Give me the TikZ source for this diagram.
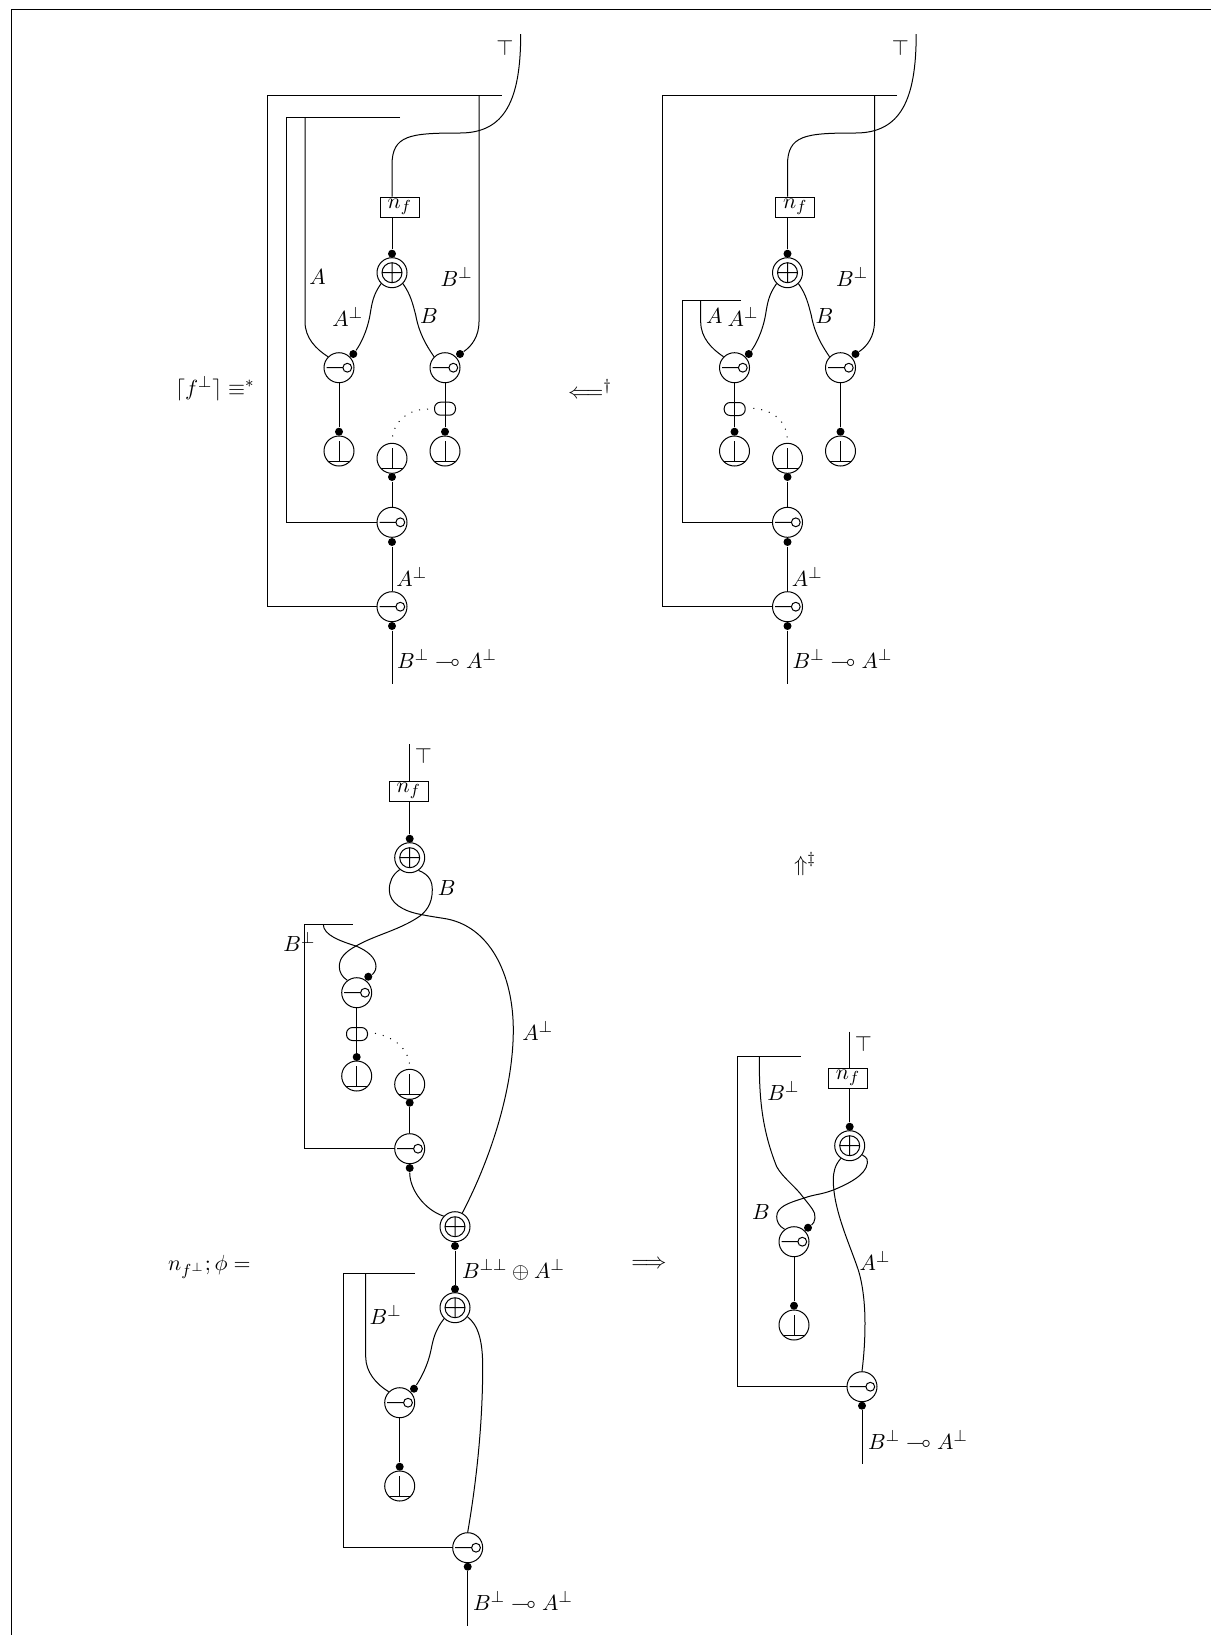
\documentclass[tikz,border=0pt]{standalone}
\usepackage{amsmath,amssymb}
\usetikzlibrary{arrows.meta,calc,positioning}
\tikzset{
  dot/.style={circle, fill, inner sep=0pt, minimum size=4pt},
  lbl/.style={inner sep=0pt},
  jump/.style={dash pattern=on 0.5pt off 3.5pt},
  namebox/.style={draw, inner sep=0pt, minimum width=19.5pt, minimum height=10pt},
  pill/.style={draw, rounded corners=3pt, inner sep=0pt, minimum width=10.5pt, minimum height=6.5pt},
  lolli/.style={circle, draw, inner sep=0pt, minimum size=15pt, path picture={
    \draw[shift={(path picture bounding box.center)}] (-12.5,0) -- (4,0) (8.3,0) circle[radius=4.4];}},
  parnode/.style={circle, draw, inner sep=0pt, minimum size=15pt, path picture={
    \draw[shift={(path picture bounding box.center)}] (0,0) circle[radius=10] (-10,0) -- (10,0) (0,-10) -- (0,10);}},
  botnode/.style={circle, draw, inner sep=0pt, minimum size=15pt, path picture={
    \draw[shift={(path picture bounding box.center)}] (0,-10) -- (0,10) (-11.5,10) -- (11.5,10);}},
}

\begin{document}
\begin{tikzpicture}[x=0.5pt, y=-0.5pt, line width=0.5pt, every node/.style={font=\fontsize{11.2}{13.4}\selectfont}]
  \useasboundingbox (0,0) rectangle (1211,1635);

  % Frame
  \coordinate (frameA) at (11,1635);
  \coordinate (frameB) at (11,9);
  \coordinate (frameC) at (1211,9);
  \draw (frameA) -- (frameB) -- (frameC);

  % Top row: what both pictures share
  \foreach \n/\dx in {p/0,q/395.5} {
    \begin{scope}[xshift=\dx*0.5pt]
      \coordinate (\n-top) at (520.7,34);
      \coordinate (\n-outA) at (501.7,95.7);
      \coordinate (\n-outB) at (267.3,95.7);
      \coordinate (\n-wB) at (479,95.7);
      \coordinate (\n-end) at (392,684);
      \node[namebox] (\n-nf) at (399.7,207) {$n_f$};
      \node[dot] (\n-dotP) at (392,253.7) {};
      \node[parnode] (\n-par) at (392,272.7) {};
      \node[lolli] (\n-lolA) at (339,367.7) {};
      \node[lolli] (\n-lolB) at (445,367.7) {};
      \node[dot] (\n-dotA) at (353.3,354) {};
      \node[dot] (\n-dotB) at (460,354) {};
      \node[dot] (\n-dotC) at (339,431.7) {};
      \node[dot] (\n-dotD) at (445,431.7) {};
      \node[botnode] (\n-botA) at (339,451) {};
      \node[botnode] (\n-botB) at (445,451) {};
      \node[botnode] (\n-botM) at (392,458.3) {};
      \node[dot] (\n-dotM) at (392,477) {};
      \node[lolli] (\n-lolD) at (392,522.3) {};
      \node[dot] (\n-dotE) at (392,542) {};
      \node[lolli] (\n-lolE) at (392,606.7) {};
      \node[dot] (\n-dotF) at (392,626) {};

      \draw (\n-top) .. controls (520.7,100) and (505,133) .. (460,133)
        .. controls (410,133) and (392,135) .. (392,165) -- (\n-nf.north -| \n-dotP);
      \draw (\n-nf.south -| \n-dotP) -- (\n-dotP);
      \draw (\n-outA) -- (\n-outB) |- (\n-lolE.west);
      \draw (\n-wB) -- (479,321.7) .. controls (479,336) and (472,346) .. (\n-dotB);
      \draw (\n-par.-135) .. controls (373,295) and (372,303) .. (370,315)
        .. controls (367,332) and (360,345) .. (\n-dotA);
      \draw (\n-par.-45) .. controls (411,295) and (413,305) .. (415.7,315)
        .. controls (419,333) and (426,345) .. (\n-lolB.135);
      \draw (\n-lolA) -- (\n-dotC);
      \draw (\n-lolB) -- (\n-dotD);
      \draw (\n-dotM) -- (\n-lolD);
      \draw (\n-dotE) -- (\n-lolE);
      \draw (\n-dotF) -- (\n-end);

      \node[lbl] (\n-lT) at (505,48) {$\top$};
      \node[lbl] (\n-lB) at (429,315.7) {$B$};
      \node[lbl] (\n-lBp) at (456.7,277) {$B^\perp$};
      \node[lbl] (\n-lAp) at (411.7,577) {$A^\perp$};
      \node[lbl, anchor=west] (\n-lImp) at (396.7,659) {$B^\perp \multimap A^\perp$};
    \end{scope}
  }

  % Top left
  \coordinate (inA) at (400,117.7);
  \coordinate (inB) at (286,117.7);
  \coordinate (wA) at (305,117.7);
  \draw (inA) -- (inB) |- (p-lolD.west);
  \draw (wA) -- (305,321.7) .. controls (305,338) and (316,349) .. (p-lolA.135);
  \node[pill] (p-pill) at (445,408.7) {};
  \draw[jump] (428,409) .. controls (410,409) and (392,420) .. (p-botM.north);
  \node[lbl] (lA) at (317.7,276.7) {$A$};
  \node[lbl] (lAq) at (347.7,317) {$A^\perp$};
  \node[lbl] (lCeil) at (215,389) {$\lceil f^\perp \rceil \equiv^*$};
  \node[lbl] (lLeft) at (590,389) {$\Longleftarrow^\dagger$};

  % Top right
  \coordinate (inC) at (741,300.7);
  \coordinate (inD) at (682,300.7);
  \coordinate (wC) at (700.7,300.7);
  \draw (inC) -- (inD) |- (q-lolD.west);
  \draw (wC) -- (700.7,321.7) .. controls (700.7,338) and (712,349) .. (q-lolA.135);
  \node[pill] (q-pill) at (734.7,409) {};
  \draw[jump] (753.3,408.3) .. controls (772,410) and (788,420) .. (q-botM.north);
  \node[lbl] (lC) at (714.3,316) {$A$};
  \node[lbl] (lCq) at (743,317) {$A^\perp$};
  \node[lbl] (lUp) at (805,864) {$\Uparrow^\ddagger$};

  % Middle
  \coordinate (mTop) at (409.7,744.3);
  \coordinate (mBrA) at (352.7,924.3);
  \coordinate (mBrB) at (304,924.3);
  \coordinate (mW) at (323.3,924.3);
  \node[namebox] (mNf) at (408.7,791) {$n_f$};
  \node[dot] (mDotP) at (409.7,838.7) {};
  \node[parnode] (mPar) at (409.7,857.7) {};
  \node[lolli] (mLolF) at (356.7,992.7) {};
  \node[dot] (mDotF) at (368.3,976.7) {};
  \node[pill] (mPill) at (357,1034) {};
  \node[dot] (mDotG) at (356.7,1057) {};
  \node[botnode] (mBotG) at (356.7,1076) {};
  \node[botnode] (mBotM) at (409.7,1084.3) {};
  \node[dot] (mDotM) at (409.7,1102.7) {};
  \node[lolli] (mLolG) at (409.7,1148.7) {};
  \node[dot] (mDotH) at (409.7,1168) {};
  \node[parnode] (mParD) at (455,1226.7) {};
  \draw (mTop) -- (mNf.north -| mDotP);
  \draw (mNf.south -| mDotP) -- (mDotP);
  \draw (mPar.-130) .. controls (392,875) and (389.3,882) .. (389.3,890)
    .. controls (389.3,903) and (403,911) .. (420,914.3)
    .. controls (430,916.3) and (435,917) .. (443.3,918.3)
    .. controls (490,925) and (513.3,975) .. (513.3,1030)
    .. controls (513.3,1090) and (490,1160) .. (mParD.62);
  \draw (mPar.-55) .. controls (430,875) and (432.3,882) .. (432.3,890)
    .. controls (432.3,905) and (425,912) .. (420,916)
    .. controls (400,930) and (375,935) .. (356,946)
    .. controls (345,952) and (339.3,958) .. (339.3,966.7)
    .. controls (339.3,972) and (342,977) .. (mLolF.127);
  \draw (mW) .. controls (323.3,935) and (340,941) .. (356,946)
    .. controls (368,951) and (376,958) .. (376,966.7)
    .. controls (376,971) and (373,974) .. (mDotF);
  \draw (mBrA) -- (mBrB) |- (mLolG.west);
  \draw (mLolF) -- (mDotG);
  \draw[jump] (375,1033.3) .. controls (395,1037) and (410.3,1050) .. (mBotM.north);
  \draw (mDotM) -- (mLolG);
  \draw (mDotH) .. controls (409.7,1190) and (425,1210) .. (mParD.137);
  \node[lbl] (lmT) at (423.3,756) {$\top$};
  \node[lbl] (lmB) at (446.7,888.3) {$B$};
  \node[lbl] (lmBp) at (299.3,941.5) {$B^\perp$};
  \node[lbl] (lmAp) at (537.7,1030.5) {$A^\perp$};
  \node[lbl] (lmN) at (209.5,1267) {$n_{f^\perp}; \phi =$};
  \node[lbl] (lmR) at (649,1264) {$\Longrightarrow$};

  % Bottom of the middle picture
  \coordinate (nBrA) at (415,1273.3);
  \coordinate (nBrB) at (343,1273.3);
  \coordinate (nW) at (365.7,1273.3);
  \coordinate (nEnd) at (467.7,1626);
  \node[dot] (nDotA) at (455,1246) {};
  \node[dot] (nDotB) at (455,1289) {};
  \node[parnode] (nPar) at (455,1307.7) {};
  \node[lolli] (nLolH) at (399.7,1402.7) {};
  \node[dot] (nDotH) at (414,1388.7) {};
  \node[dot] (nDotJ) at (399.7,1466.7) {};
  \node[botnode] (nBotJ) at (399.7,1486) {};
  \node[lolli] (nLolK) at (467.7,1547.7) {};
  \node[dot] (nDotK) at (467.7,1566.7) {};
  \draw (nDotA) -- (nDotB);
  \draw (nBrA) -- (nBrB) |- (nLolK.west);
  \draw (nW) -- (365.7,1356.7) .. controls (365.7,1372) and (376,1384) .. (nLolH.135);
  \draw (nPar.-135) .. controls (435,1330) and (433,1340) .. (431,1350)
    .. controls (428,1365) and (421,1378) .. (nDotH);
  \draw (nPar.-36) .. controls (478,1325) and (482.7,1340) .. (482.7,1366.7)
    .. controls (482.7,1430) and (475,1490) .. (nLolK.north);
  \draw (nLolH) -- (nDotJ);
  \draw (nDotK) -- (nEnd);
  \node[lbl, anchor=west] (lnSum) at (461.7,1270) {$B^{\perp\perp} \oplus A^\perp$};
  \node[lbl] (lnBp) at (385.7,1315) {$B^\perp$};
  \node[lbl, anchor=west] (lnImp) at (472.7,1601) {$B^\perp \multimap A^\perp$};

  % Lower right
  \coordinate (rTop) at (849.7,1031.7);
  \coordinate (rBrA) at (800.7,1056.7);
  \coordinate (rBrB) at (737.3,1056.7);
  \coordinate (rW) at (759.3,1056.7);
  \coordinate (rEnd) at (862,1464.3);
  \node[namebox] (rNf) at (848,1078) {$n_f$};
  \node[dot] (rDotP) at (849.7,1126.7) {};
  \node[parnode] (rPar) at (849.7,1145.7) {};
  \node[lolli] (rLolS) at (794,1241.7) {};
  \node[dot] (rDotS) at (808,1227.7) {};
  \node[dot] (rDotT) at (794,1305.7) {};
  \node[botnode] (rBotT) at (794,1325) {};
  \node[lolli] (rLolR) at (862,1386.7) {};
  \node[dot] (rDotR) at (862,1405.7) {};
  \draw (rTop) -- (rNf.north -| rDotP);
  \draw (rNf.south -| rDotP) -- (rDotP);
  \draw (rPar.-125) .. controls (835,1165) and (833.3,1172) .. (833.3,1180)
    .. controls (833.3,1210) and (850,1245) .. (858.3,1270)
    .. controls (863,1285) and (865,1305) .. (865,1323)
    .. controls (865,1340) and (864,1355) .. (rLolR.north);
  \draw (rPar.-36) .. controls (868,1158) and (868,1161) .. (867.3,1163.3)
    .. controls (866,1175) and (848,1184) .. (833.3,1190)
    .. controls (820,1195) and (815,1194) .. (803.3,1198.3)
    .. controls (788,1203) and (776.7,1207) .. (776.7,1216.7)
    .. controls (776.7,1221) and (778.5,1226) .. (rLolS.127);
  \draw (rW) .. controls (759.3,1090) and (760,1125) .. (776.7,1166.7)
    .. controls (783,1178) and (795,1186) .. (803,1197)
    .. controls (810,1206) and (816,1212) .. (815,1218)
    .. controls (815,1221) and (813,1224) .. (rDotS);
  \draw (rBrA) -- (rBrB) |- (rLolR.west);
  \draw (rLolS) -- (rDotT);
  \draw (rDotR) -- (rEnd);
  \node[lbl] (lrT) at (863.3,1044.3) {$\top$};
  \node[lbl] (lrBp) at (783.3,1091) {$B^\perp$};
  \node[lbl] (lrB) at (761,1211.7) {$B$};
  \node[lbl] (lrAp) at (875,1261) {$A^\perp$};
  \node[lbl, anchor=west] (lrImp) at (867.7,1440) {$B^\perp \multimap A^\perp$};
\end{tikzpicture}
\end{document}
